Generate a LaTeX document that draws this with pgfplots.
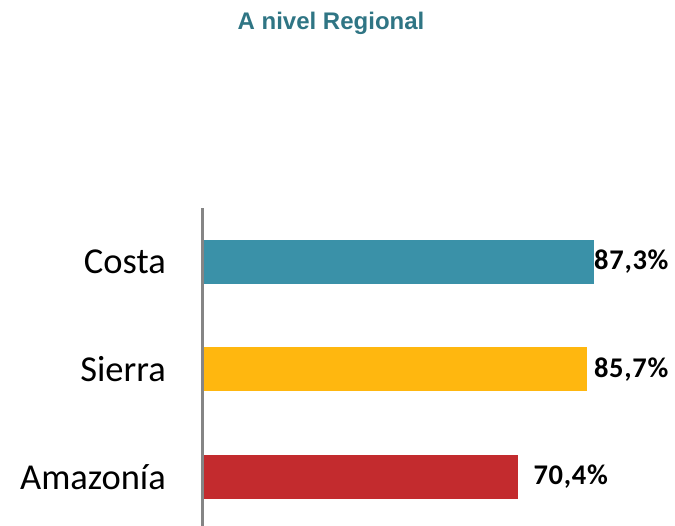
\documentclass[border=0pt]{standalone}
\usepackage{pgfplots}
\pgfplotsset{compat=1.18}
\usepackage{fontspec}
\setmainfont{Carlito}
\newfontfamily\titlefont{Liberation Sans}
\newfontfamily\valfont[LetterSpace=2.5]{Carlito}
\definecolor{cteal}{HTML}{3A91A8}
\definecolor{cyellow}{HTML}{FFB70F}
\definecolor{cred}{HTML}{C32B2E}
\definecolor{ctitle}{HTML}{2F7584}
\definecolor{caxis}{HTML}{858585}
\begin{document}
\begin{tikzpicture}
\useasboundingbox (-203bp,0bp) rectangle (472bp,526bp);
\begin{axis}[
  at={(0,0)}, anchor=south west,
  x=4.479bp, y=107.5bp,
  scale only axis,
  xmin=0, xmax=105,
  ymin=-0.456, ymax=2.502,
  xbar, bar width=44bp, bar shift=0pt,
  axis x line=none,
  axis y line*=left,
  y axis line style={draw=none},
  ytick={0,1,2},
  yticklabels={Amazonía,Sierra,Costa},
  major tick length=0pt,
  yticklabel style={font=\fontsize{36.5bp}{40bp}\selectfont, inner sep=0pt, xshift=-37bp, anchor=east},
  clip=false,
  /pgf/number format/assume math mode=true,
  point meta=x,
  nodes near coords={\pgfmathprintnumber[fixed,precision=1,zerofill,use comma]{\pgfplotspointmeta}\%},
  every node near coord/.append style={font=\valfont\bfseries\fontsize{28.5bp}{30bp}\selectfont, anchor=west, inner sep=0pt, text=black},
]
\addplot[fill=cteal, draw=none, every node near coord/.append style={xshift=0bp}] coordinates {(87.3,2)};
\addplot[fill=cyellow, draw=none, every node near coord/.append style={xshift=7bp}] coordinates {(85.7,1)};
\addplot[fill=cred, draw=none, every node near coord/.append style={xshift=15bp}] coordinates {(70.4,0)};
\draw[caxis, line width=3bp] (axis cs:0,-0.5) -- (axis cs:0,2.502);
\end{axis}
\node[font=\titlefont\bfseries\fontsize{24bp}{26bp}\selectfont, text=ctitle] at (128bp,503bp) {A nivel Regional};
\end{tikzpicture}
\end{document}
